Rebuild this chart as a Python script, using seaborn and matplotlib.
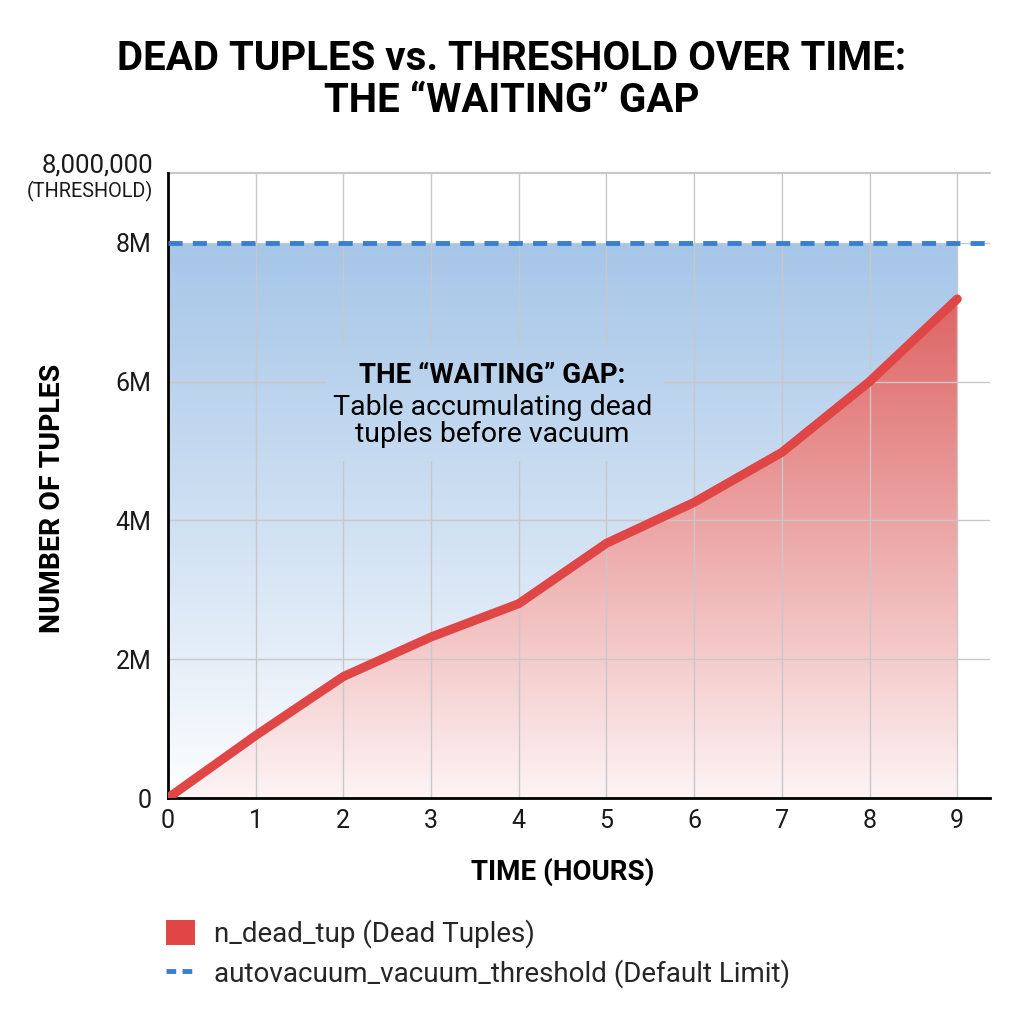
import numpy as np
import pandas as pd
import matplotlib
matplotlib.use("Agg")
import matplotlib.pyplot as plt
import seaborn as sns
from matplotlib.patches import Patch, Rectangle
from matplotlib.lines import Line2D
from matplotlib.colors import to_rgb

# ---- data ----
hours = [0, 1, 2, 3, 4, 5, 6, 7, 8, 9]
dead_tuples = [0, 0.9e6, 1.75e6, 2.32e6, 2.8e6, 3.67e6, 4.26e6, 4.98e6, 6.0e6, 7.19e6]
threshold = 8_000_000
y_ticks = [0, 2e6, 4e6, 6e6, 8e6]
y_tick_labels = ["0", "2M", "4M", "6M", "8M"]
x_ticks = hours

title = "DEAD TUPLES vs. THRESHOLD OVER TIME:\nTHE \u201cWAITING\u201d GAP"
x_label = "TIME (HOURS)"
y_label = "NUMBER OF TUPLES"
legend_labels = ["n_dead_tup (Dead Tuples)", "autovacuum_vacuum_threshold (Default Limit)"]

sns.set_theme(style="white")
plt.rcParams['font.family'] = ['Roboto', 'DejaVu Sans']

df = pd.DataFrame({"hour": hours, "dead": dead_tuples})

fig = plt.figure(figsize=(10.24, 10.24), dpi=100)
ax = fig.add_axes([0.164, 0.2207, 0.803, 0.610])

xmax = 9.376
ymax = 9.0e6
ax.set_xlim(0, xmax)
ax.set_ylim(0, ymax)

red = "#e04646"
blue = "#3a7fcf"

# blue gradient between 0 and threshold
n = 256
yy = np.linspace(0, 1, n)[:, None]
blue_top = np.array(to_rgb("#a6c6e8"))
white = np.array([1.0, 1.0, 1.0])
t = yy ** 0.9
blue_img = white[None, None, :] * (1 - t[..., None]) + blue_top[None, None, :] * t[..., None]
blue_img = np.repeat(blue_img, 2, axis=1)
poly_b = ax.fill_between([hours[0], hours[-1]], 0, threshold, color="none", lw=0)
im_b = ax.imshow(blue_img, origin="lower", extent=[hours[0], hours[-1], 0, threshold],
                 aspect="auto", zorder=0.2, interpolation="bilinear")
im_b.set_clip_path(poly_b.get_paths()[0], transform=ax.transData)

# red gradient below the line
red_top = np.array(to_rgb("#de6464"))
red_bot = np.array(to_rgb("#fdf4f4"))
top_val = max(dead_tuples)
red_img = red_bot[None, None, :] * (1 - yy[..., None]) + red_top[None, None, :] * yy[..., None]
red_img = np.repeat(red_img, 2, axis=1)
poly_r = ax.fill_between(hours, 0, dead_tuples, color="none", lw=0)
im_r = ax.imshow(red_img, origin="lower", extent=[hours[0], hours[-1], 0, top_val],
                 aspect="auto", zorder=0.3, interpolation="bilinear")
im_r.set_clip_path(poly_r.get_paths()[0], transform=ax.transData)

# grid
ax.set_xticks(x_ticks)
ax.set_yticks(y_ticks)
ax.set_yticklabels(y_tick_labels)
ax.grid(True, color="#c8c8c8", lw=1.0)
ax.axhline(ymax, color="#c8c8c8", lw=1.5, zorder=1.5, clip_on=False)

# annotation background: same gradient, hiding grid lines
box = Rectangle((1.8, 4.85e6), 3.85, 1.65e6, facecolor="none", edgecolor="none")
ax.add_patch(box)
im_box = ax.imshow(blue_img, origin="lower", extent=[hours[0], hours[-1], 0, threshold],
                   aspect="auto", zorder=1.7, interpolation="bilinear")
im_box.set_clip_path(box)

# threshold line
ax.axhline(threshold, color=blue, lw=3.5, ls=(0, (2.9, 2.1)), zorder=3)

# dead tuples line
sns.lineplot(data=df, x="hour", y="dead", ax=ax, color=red, lw=6.5,
             solid_capstyle="round", zorder=4, legend=False)

# spines
for s in ["top", "right"]:
    ax.spines[s].set_visible(False)
for s in ["left", "bottom"]:
    ax.spines[s].set_color("black")
    ax.spines[s].set_linewidth(2)
ax.tick_params(axis="both", length=0, labelsize=18, colors="#1a1a1a", pad=8)
ax.tick_params(axis="y", pad=12)

ax.set_xlabel(x_label, fontsize=20, fontweight="bold", color="black")
ax.xaxis.set_label_coords(0.48, -0.095)
ax.set_ylabel(y_label, fontsize=20.5, fontweight="bold", color="black")
ax.yaxis.set_label_coords(-0.124, 0.48)

# annotation
ax.text(3.7, 5.9e6, "THE \u201cWAITING\u201d GAP:", ha="center", va="bottom",
        fontsize=20, fontweight="bold", zorder=5, color="black")
ax.text(3.7, 5.82e6, "Table accumulating dead\ntuples before vacuum", ha="center", va="top",
        fontsize=20.5, zorder=5, linespacing=1.0, color="black")

# threshold label at top
fig.text(153 / 1024, 1 - 165 / 1024, "8,000,000", ha="right", va="center", fontsize=18.5,
         color="#1a1a1a")
fig.text(153 / 1024, 1 - 191 / 1024, "(THRESHOLD)", ha="right", va="center", fontsize=14.3,
         color="#1a1a1a")

# title
fig.text(0.5, 1 - 80 / 1024, title, ha="center", va="center", fontsize=29,
         fontweight="bold", linespacing=1.15, color="black")

# legend
handles = [Patch(facecolor=red, edgecolor="none"),
           Line2D([0], [0], color=blue, lw=3.5, ls=(0, (2, 1.3)))]
fig.legend(handles, legend_labels, loc="upper left", bbox_to_anchor=(0.151, 0.113),
           frameon=False, fontsize=20, handlelength=1.05, handleheight=1.0,
           labelspacing=0.4, handletextpad=0.7, borderaxespad=0)

fig.savefig("out.png", dpi=100)
